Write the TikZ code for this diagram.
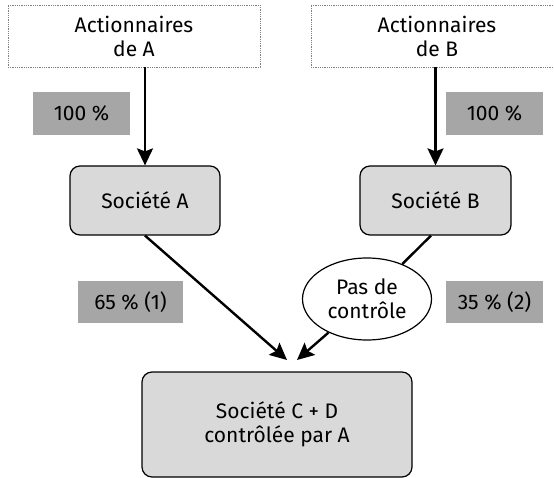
\documentclass[tikz,border=0pt]{standalone}
\usepackage{fontspec}
\setmainfont{Fira Sans}
\usetikzlibrary{shapes}
\usetikzlibrary{arrows.meta}
\definecolor{darkbox}{HTML}{A6A6A6}
\definecolor{lightbox}{HTML}{D9D9D9}
\tikzset{
  holders/.style={draw=gray, densely dotted, line width=0.8pt, minimum width=252pt, minimum height=62pt, align=center},
  share/.style={fill=darkbox, minimum height=43pt, inner sep=0pt},
  company/.style={draw=black, fill=lightbox, rounded corners=10pt, line width=1.2pt, align=center},
  link/.style={line width=2.4pt, -{Stealth[length=17pt,width=16pt,inset=3pt]}}
}
\begin{document}
\begin{tikzpicture}[x=1pt, y=-1pt, font=\fontsize{21}{24}\selectfont]
\useasboundingbox (0,0) rectangle (554,478);
\clip (0,0) rectangle (554,478);
\node [holders] (holdA) at (134,36) {Actionnaires\\de A};
\node [holders] (holdB) at (437,36) {Actionnaires\\de B};
\node [share, minimum width=97pt] (shA) at (81.5,113.5) {100 \%};
\node [share, minimum width=97pt] (shB) at (494.5,113.5) {100 \%};
\node [company, minimum width=150pt, minimum height=69pt] (socA) at (145,200.5) {Société A};
\node [company, minimum width=151pt, minimum height=69pt] (socB) at (435.5,200.5) {Société B};
\node [share, minimum width=105pt, minimum height=42pt] (sh65) at (130.5,302) {65 \% (1)};
\node [share, minimum width=97pt, minimum height=42pt] (sh35) at (494.5,302) {35 \% (2)};
\node [draw, ellipse, line width=1.2pt, fill=white, inner sep=0pt, minimum width=129pt, minimum height=82pt, align=center] (ctrl) at (367,299) {Pas de\\contrôle};
\node [company, minimum width=270pt, minimum height=105pt] (socCD) at (277,424.5) {Société C + D\\contrôlée par A};
\coordinate (tipA) at (287,360);
\coordinate (tipB) at (297,360);
\draw [link] (socA.north |- holdA.south) -- (socA.north);
\draw [link] (socB.north |- holdB.south) -- (socB.north);
\draw [link] (socA.south) -- (tipA);
\draw [line width=2.4pt] ([xshift=-4.5pt]socB.south) -- (ctrl);
\draw [link] (ctrl) -- (tipB);
\end{tikzpicture}
\end{document}
